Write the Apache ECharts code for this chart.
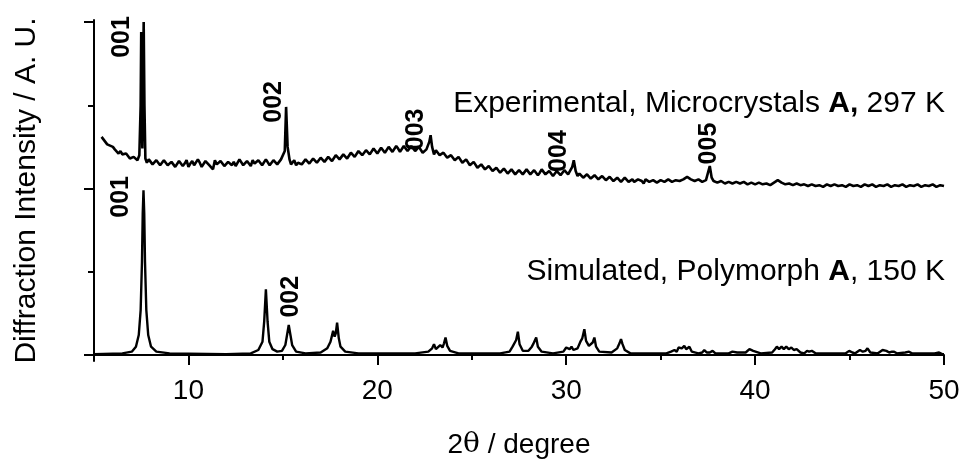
<!DOCTYPE html>
<html><head><meta charset="utf-8">
<script src="https://cdn.jsdelivr.net/npm/echarts@6/dist/echarts.min.js"></script>
<style>html,body{margin:0;padding:0;background:#fff}#c{width:964px;height:463px}</style>
</head><body><div id="c"></div>
<script>
// Experimental PXRD pattern (2theta, intensity, arbitrary units, offset)
const experimental = [
[5.4,262],[5.5,259],[5.6,257],[5.7,253],[5.8,255],[6.0,250],[6.1,247],[6.2,246],[6.3,242],[6.4,245],[6.5,241],[6.6,239],[6.7,242],[6.8,240],[6.9,236],[7.0,235],[7.1,238],[7.2,237],[7.3,234],[7.4,240],
[7.47,300],[7.50,388],[7.53,300],[7.56,248],[7.60,330],[7.63,400],[7.67,300],[7.72,236],[7.8,231],[7.9,235],
[8.0,233],[8.1,229],[8.2,228],[8.3,234],[8.4,232],[8.5,228],[8.6,229],[8.7,234],[8.8,233],[8.9,228],[9.0,227],[9.1,232],[9.2,231],[9.3,226],[9.4,228],[9.5,233],[9.6,232],[9.7,227],[9.8,230],[9.9,234],
[10.0,226],[10.1,230],[10.2,233],[10.3,228],[10.4,229],[10.5,235],[10.6,231],[10.7,226],[10.8,227],[10.9,233],[11.0,232],[11.1,228],[11.2,230],[11.3,223],[11.4,234],[11.5,229],[11.6,228],[11.7,233],[11.8,231],[11.9,227],
[12.0,226],[12.1,232],[12.2,230],[12.3,228],[12.4,232],[12.5,227],[12.6,229],[12.7,235],[12.8,233],[12.9,228],[13.0,228],[13.1,233],[13.2,231],[13.3,227],[13.4,234],[13.5,230],[13.6,229],[13.7,234],[13.8,232],[13.9,228],
[14.0,230],[14.1,235],[14.2,233],[14.3,228],[14.4,229],[14.5,234],[14.6,232],[14.7,229],[14.8,230],[14.9,235],[15.0,233],[15.1,245],[15.17,298],[15.25,250],[15.35,235],[15.43,229],[15.5,231],[15.6,234],[15.7,228],[15.8,231],[15.9,233],
[16.0,229],[16.1,230],[16.2,235],[16.3,234],[16.4,230],[16.5,231],[16.6,236],[16.7,235],[16.8,231],[16.9,232],[17.0,237],[17.1,236],[17.2,232],[17.3,233],[17.4,238],[17.5,237],[17.6,233],[17.7,235],[17.8,240],[17.9,239],
[18.0,235],[18.1,236],[18.2,241],[18.3,240],[18.4,236],[18.5,238],[18.6,243],[18.7,242],[18.8,238],[18.9,239],[19.0,245],[19.1,243],[19.2,240],[19.3,241],[19.4,246],[19.5,245],[19.6,241],[19.7,242],[19.8,248],[19.9,246],
[20.0,242],[20.1,243],[20.2,249],[20.3,247],[20.4,243],[20.5,244],[20.6,250],[20.7,249],[20.8,244],[20.9,245],[21.0,251],[21.1,248],[21.2,244],[21.3,245],[21.4,251],[21.5,250],[21.6,245],[21.7,246],[21.8,251],[21.9,249],
[22.0,245],[22.1,246],[22.2,250],[22.3,248],[22.4,243],[22.5,244],[22.6,247],[22.68,246],[22.75,256],[22.82,264],[22.9,250],[23.0,241],[23.1,246],[23.2,244],[23.3,240],[23.4,239],[23.5,243],[23.6,241],[23.7,237],[23.8,237],[23.9,240],
[24.0,239],[24.1,234],[24.2,235],[24.3,238],[24.4,236],[24.5,231],[24.6,232],[24.7,235],[24.8,233],[24.9,228],[25.0,229],[25.1,232],[25.2,230],[25.3,225],[25.4,226],[25.5,229],[25.6,228],[25.7,223],[25.8,224],[25.9,227],
[26.0,226],[26.1,221],[26.2,222],[26.3,225],[26.4,224],[26.5,219],[26.6,220],[26.7,224],[26.8,223],[26.9,218],[27.0,219],[27.1,223],[27.2,222],[27.3,217],[27.4,218],[27.5,222],[27.6,221],[27.7,217],[27.8,219],[27.9,223],
[28.0,222],[28.1,217],[28.2,218],[28.3,222],[28.4,221],[28.5,216],[28.6,219],[28.7,223],[28.8,222],[28.9,217],[29.0,218],[29.1,221],[29.2,220],[29.3,215],[29.4,217],[29.5,221],[29.6,220],[29.7,216],[29.8,218],[29.9,222],
[30.0,221],[30.1,217],[30.2,219],[30.32,226],[30.4,234],[30.5,221],[30.6,215],[30.7,218],[30.8,217],[30.9,213],[31.0,214],[31.1,217],[31.2,216],[31.3,212],[31.4,213],[31.5,216],[31.6,215],[31.7,211],[31.8,212],[31.9,215],
[32.0,214],[32.1,210],[32.2,211],[32.3,214],[32.4,213],[32.5,209],[32.6,210],[32.7,213],[32.8,212],[32.9,208],[33.0,209],[33.1,213],[33.2,212],[33.3,208],[33.4,210],[33.5,211],[33.6,208],[33.7,207],[33.8,211],[33.9,210],
[34.0,209],[34.1,206],[34.2,211],[34.3,210],[34.4,208],[34.5,207],[34.6,210],[34.7,209],[34.8,207],[34.9,206],[35.0,210],[35.1,209],[35.2,208],[35.3,207],[35.4,211],[35.5,209],[35.6,208],[35.7,207],[35.8,210],[35.9,211],
[36.0,209],[36.1,208],[36.2,211],[36.3,212],[36.4,214],[36.5,215],[36.6,211],[36.7,209],[36.8,209],[36.9,207],[37.0,211],[37.1,209],[37.2,208],[37.3,209],[37.4,210],[37.5,212],[37.6,227],[37.7,213],[37.8,209],[37.9,210],
[38.0,207],[38.1,206],[38.2,209],[38.3,208],[38.4,206],[38.5,205],[38.6,208],[38.7,207],[38.8,206],[38.9,205],[39.0,208],[39.1,209],[39.2,206],[39.3,205],[39.4,208],[39.5,207],[39.6,205],[39.7,204],[39.8,207],[39.9,206],
[40.0,205],[40.1,204],[40.2,207],[40.3,206],[40.4,205],[40.5,204],[40.6,206],[40.7,205],[40.8,204],[40.9,205],[41.0,207],[41.1,208],[41.2,210],[41.3,209],[41.4,207],[41.5,206],[41.6,205],[41.7,203],[41.8,206],[41.9,205],
[42.0,204],[42.1,203],[42.2,206],[42.3,205],[42.4,204],[42.5,203],[42.6,205],[42.7,204],[42.8,203],[42.9,202],[43.0,205],[43.1,204],[43.2,203],[43.3,202],[43.4,204],[43.5,205],[43.6,202],[43.7,203],[43.8,205],[43.9,204],
[44.0,203],[44.1,202],[44.2,205],[44.3,204],[44.4,203],[44.5,205],[44.6,204],[44.7,203],[44.8,202],[44.9,204],[45.0,205],[45.1,204],[45.2,203],[45.3,205],[45.4,204],[45.5,203],[45.6,202],[45.7,204],[45.8,205],[45.9,204],
[46.0,203],[46.1,204],[46.2,205],[46.3,204],[46.4,202],[46.5,203],[46.6,204],[46.7,205],[46.8,203],[46.9,204],[47.0,205],[47.1,204],[47.2,202],[47.3,203],[47.4,204],[47.5,205],[47.6,203],[47.7,204],[47.8,205],[47.9,204],
[48.0,202],[48.1,203],[48.2,204],[48.3,205],[48.4,203],[48.5,204],[48.6,205],[48.7,203],[48.8,202],[48.9,203],[49.0,204],[49.1,205],[49.2,203],[49.3,204],[49.4,205],[49.5,203],[49.6,202],[49.7,203],[49.8,204],[49.9,203],[50.0,203]
];

// Simulated PXRD pattern (2theta, intensity)
const simulated = [
[5.0,1],[6.5,2],[7.0,4],[7.22,10],[7.37,24],[7.47,54],[7.54,112],[7.58,170],[7.62,198],[7.66,170],[7.70,112],[7.77,54],[7.87,24],[8.02,10],[8.3,4],[9.0,2],[12.0,1],
[13.3,2],[13.7,6],[13.92,16],[14.01,40],[14.1,79],[14.19,40],[14.28,16],[14.45,7],[14.7,4],[14.95,5],[15.13,12],[15.22,24],[15.31,36],[15.4,24],[15.49,12],[15.7,4],[16.2,2],
[17.0,3],[17.35,8],[17.52,16],[17.66,29],[17.74,22],[17.8,26],[17.87,39],[17.96,20],[18.05,10],[18.3,4],[19.0,2],[22.0,2],
[22.7,4],[22.9,8],[23.0,13],[23.1,7],[23.2,8],[23.33,12],[23.45,9],[23.53,14],[23.61,21],[23.7,11],[23.85,5],[24.3,2],[26.5,2],
[27.0,4],[27.16,10],[27.25,8],[27.35,18],[27.44,28],[27.53,13],[27.7,5],[28.0,5],[28.18,10],[28.25,13],[28.32,12],[28.41,21],[28.5,10],[28.7,4],[29.3,2],
[29.85,4],[30.0,9],[30.1,10],[30.18,7],[30.28,10],[30.38,6],[30.6,8],[30.75,16],[30.85,20],[30.96,31],[31.05,17],[31.2,11],[31.3,13],[31.4,15],[31.49,21],[31.58,10],[31.75,4],
[32.4,3],[32.7,8],[32.82,14],[32.9,19],[32.98,13],[33.1,6],[33.4,2],[35.3,2],
[35.55,4],[35.73,6],[35.85,4],[35.95,9],[36.0,11],[36.12,8],[36.25,11],[36.35,7],[36.45,8],[36.52,10],[36.65,4],[37.0,2],[37.2,3],[37.31,6],[37.45,3],[37.6,3],[37.75,5],[37.9,2],
[38.6,2],[38.8,4],[38.9,6],[39.05,3],[39.5,3],[39.7,7],[39.78,9],[39.9,5],[40.3,2],
[40.9,3],[41.05,7],[41.15,10],[41.27,7],[41.4,10],[41.52,7],[41.65,10],[41.78,7],[41.92,9],[42.05,6],[42.2,7],[42.4,3],[42.6,2],[42.75,5],[42.86,4],[43.0,5],[43.2,2],
[44.8,2],[44.98,5],[45.15,3],[45.3,2],[45.55,6],[45.7,4],[45.85,5],[45.95,8],[46.1,3],[46.5,2],[46.75,6],[46.85,8],[46.95,5],[47.1,3],[47.25,4],[47.36,4],[47.5,2],
[47.95,3],[48.15,4],[48.3,2],[49.5,2],[49.74,3],[49.9,1],[50.0,1]
];

// Reflection (hkl) annotations: [2theta, intensity position, text]
const expLabels = [[6.48,382,'001'],[14.52,304,'002'],[22.03,271,'003'],[29.64,245,'004'],[37.58,254,'005']];
const simLabels = [[6.43,190,'001'],[15.42,70,'002']];

const xMajorTicks = [10,20,30,40,50];
const xMinorTicks = [5,15,25,35,45];
const yMajorTicks = [0,200,400];
const yMinorTicks = [100,300];

const FONT = '"Liberation Sans", Arial, sans-serif';
const chart = echarts.init(document.getElementById('c'));
const axisStyle = {color:'#000', width:2};

const labelSeries = (data) => ({
  type:'scatter', data:data, symbolSize:0, silent:true,
  itemStyle:{color:'#000', opacity:1},
  label:{show:true, position:'inside', rotate:90, formatter:p=>p.data[2], opacity:1,
    fontFamily:FONT, fontWeight:'bold', fontSize:25, color:'#000', textBorderWidth:0,
    align:'center', verticalAlign:'middle'}
});

chart.setOption({
  animation:false,
  backgroundColor:'#fff',
  grid:{left:94, right:20, top:20, bottom:102, containLabel:false, outerBoundsMode:'none'},
  xAxis:[
    {type:'value', min:5, max:50, position:'bottom',
     axisLine:{lineStyle:axisStyle},
     axisTick:{customValues:xMajorTicks, length:10, lineStyle:axisStyle},
     axisLabel:{customValues:xMajorTicks, fontSize:28, color:'#000', fontFamily:FONT, margin:16},
     splitLine:{show:false},
     name:'2{t|θ} / degree', nameLocation:'middle', nameGap:70,
     nameTextStyle:{fontSize:28, color:'#000', fontFamily:FONT, rich:{t:{fontSize:28, fontFamily:'"DejaVu Serif", serif', color:'#000'}}}},
    {type:'value', min:5, max:50, position:'bottom',
     axisLine:{show:false},
     axisTick:{customValues:xMinorTicks, length:5, lineStyle:axisStyle},
     axisLabel:{show:false}, splitLine:{show:false}}
  ],
  yAxis:[
    {type:'value', min:-7.2, max:402.4, position:'left',
     axisLine:{show:true, lineStyle:axisStyle},
     axisTick:{show:true, customValues:yMajorTicks, length:10, lineStyle:axisStyle},
     axisLabel:{show:false}, splitLine:{show:false},
     name:'Diffraction Intensity / A. U.', nameLocation:'middle', nameGap:52,
     nameTextStyle:{fontSize:30, color:'#000', fontFamily:FONT}},
    {type:'value', min:-7.2, max:402.4, position:'left',
     axisLine:{show:false},
     axisTick:{show:true, customValues:yMinorTicks, length:6, lineStyle:axisStyle},
     axisLabel:{show:false}, splitLine:{show:false}}
  ],
  series:[
    {type:'line', data:experimental, showSymbol:false, symbol:'none', lineStyle:{color:'#000', width:2.6}, silent:true},
    {type:'line', data:simulated, showSymbol:false, symbol:'none', lineStyle:{color:'#000', width:2.4}, silent:true},
    labelSeries(expLabels),
    labelSeries(simLabels)
  ],
  graphic:[
    {type:'text', x:945, y:104, style:{text:'Experimental, Microcrystals {b|A,} 297 K', align:'right', verticalAlign:'middle',
      fontSize:30, fontFamily:FONT, fill:'#000', rich:{b:{fontWeight:'bold', fontSize:30, fontFamily:FONT, fill:'#000'}}}},
    {type:'text', x:945, y:272, style:{text:'Simulated, Polymorph {b|A}, 150 K', align:'right', verticalAlign:'middle',
      fontSize:30, fontFamily:FONT, fill:'#000', rich:{b:{fontWeight:'bold', fontSize:30, fontFamily:FONT, fill:'#000'}}}}
  ]
});
</script></body></html>
